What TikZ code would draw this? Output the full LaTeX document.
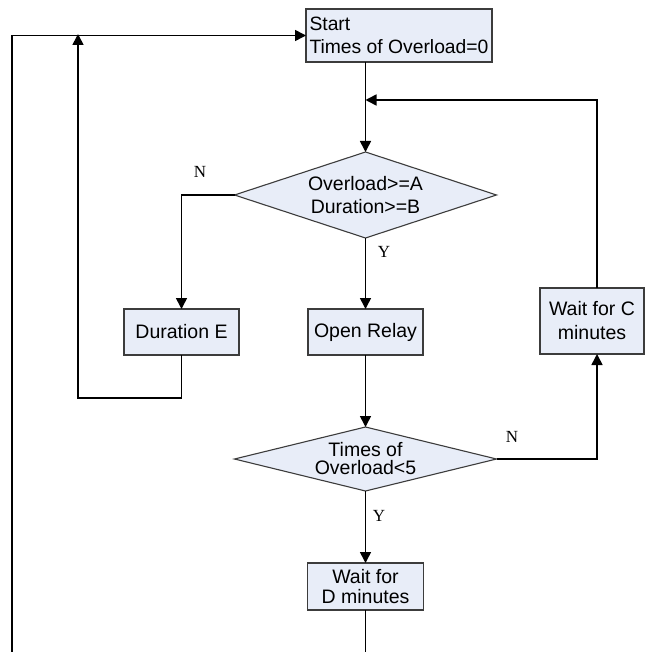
\documentclass[tikz,border=0pt]{standalone}
\usepackage{fontspec}
\setmainfont{Liberation Sans}
\newfontfamily\seriffont{Liberation Serif}
\usetikzlibrary{arrows.meta,shapes.geometric}
\definecolor{boxfill}{RGB}{232,237,248}
\definecolor{boxline}{RGB}{60,60,60}
\begin{document}
\begin{tikzpicture}[x=1pt,y=-1pt,
  procbox/.style={draw=boxline,fill=boxfill,line width=1.1pt,inner sep=0pt,outer sep=0pt,align=center,font=\fontsize{19.5}{23}\selectfont},
  decbox/.style={shape=diamond,draw=boxline,fill=boxfill,line width=1.1pt,inner sep=0pt,outer sep=0pt},
  dectext/.style={align=center,inner sep=0pt},
  conn/.style={line width=1.6pt,black},
  arr/.style={conn,-{Triangle[length=11pt,width=11pt]}},
  yn/.style={font=\seriffont\fontsize{17}{17}\selectfont,inner sep=0pt}]
\useasboundingbox (0,0) rectangle (646,652);
\fill[white] (0,0) rectangle (646,652);
% nodes
\node[procbox,minimum width=186pt,minimum height=53pt,align=left,font=\fontsize{19.3}{23}\selectfont] (start) at (399,35.5) {Start\\Times of Overload=0};
\node[decbox,minimum width=262pt,minimum height=86pt] (d1) at (365.5,195) {};
\node[dectext,font=\fontsize{19.5}{23}\selectfont] (d1t) at (d1.center) {Overload>=A\\Duration>=B};
\node[procbox,minimum width=115pt,minimum height=46pt] (dur) at (181.5,332) {Duration E};
\node[procbox,minimum width=115pt,minimum height=46pt] (open) at (365.5,332) {Open Relay};
\node[procbox,minimum width=104pt,minimum height=66pt,font=\fontsize{19.5}{24}\selectfont] (wc) at (592,321) {Wait for C\\minutes};
\node[decbox,minimum width=262pt,minimum height=64pt] (d2) at (365.5,459) {};
\node[dectext,font=\fontsize{19.5}{18}\selectfont] (d2t) at (d2.center) {Times of\\Overload<5};
\node[procbox,minimum width=116pt,minimum height=47pt,font=\fontsize{19.5}{20.5}\selectfont] (wd) at (365.5,586.5) {Wait for\\D minutes};
% helper coordinates
\coordinate (top) at (d1.north |- start.south);
\coordinate (merge) at (365.5,100);
\coordinate (loopbot) at (78,398);
\coordinate (looptop) at (78,34);
\coordinate (outerbot) at (12,652);
\coordinate (dbot) at (365.5,652);
% connectors
\draw[arr] (top) -- (d1.north);
\draw[arr] (d1.south) -- (open.north);
\draw[arr] (d1.west) -| (dur.north);
\draw[arr] (open.south) -- (d2.north);
\draw[arr] (d2.south) -- (wd.north);
\draw[arr] (d2.east) -| ([xshift=5pt]wc.south);
\draw[arr] ([xshift=5pt]wc.north) |- (merge);
\draw[arr] (dur.south) |- (loopbot) -- (looptop);
\draw[arr] (outerbot) |- (start.west);
\draw[conn] (wd.south) -- (dbot);
% labels
\node[yn] (n1) at (200,172) {N};
\node[yn] (y1) at (384,252) {Y};
\node[yn] (n2) at (512,437) {N};
\node[yn] (y2) at (379,516) {Y};
\end{tikzpicture}
\end{document}
